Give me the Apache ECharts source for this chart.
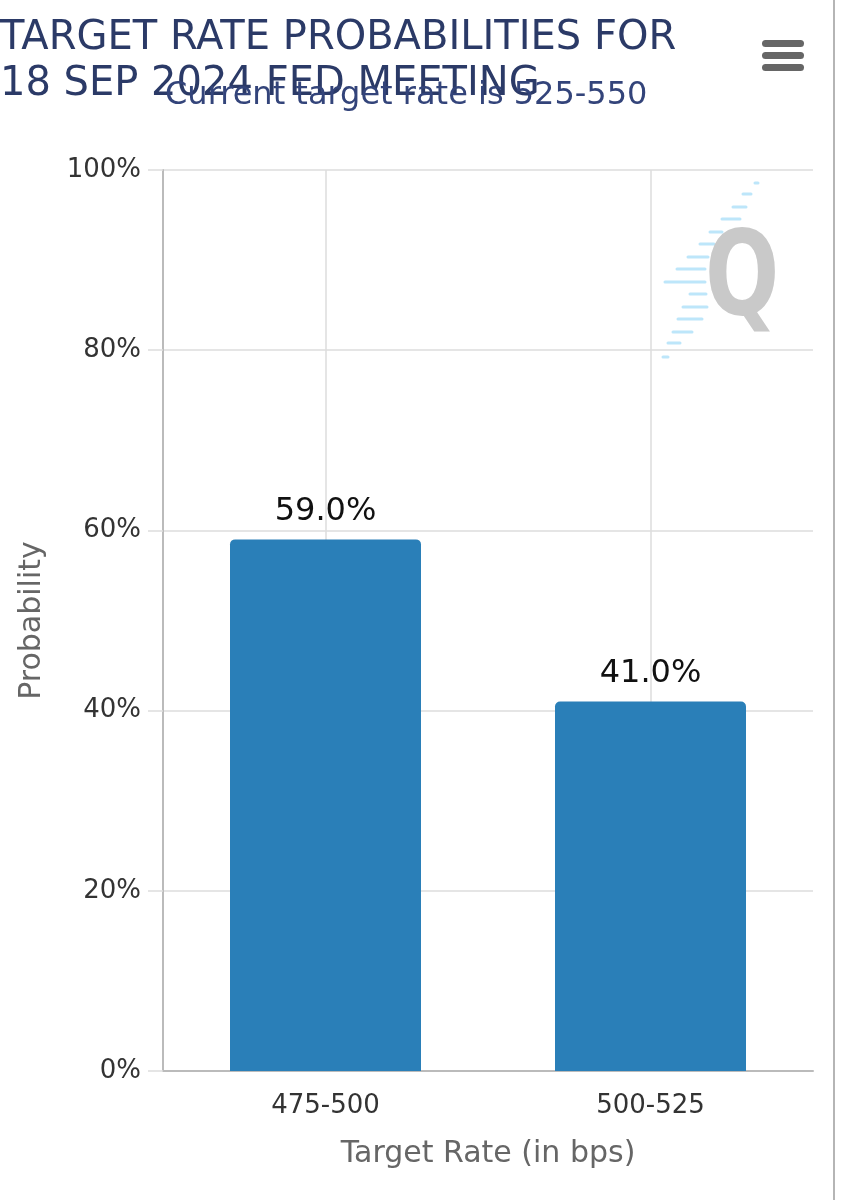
<!DOCTYPE html>
<html>
<head>
<meta charset="utf-8">
<script src="https://cdn.jsdelivr.net/npm/echarts@6/dist/echarts.min.js"></script>
<style>
html,body{margin:0;padding:0;background:#fff;}
#chart{width:844px;height:1200px;}
</style>
</head>
<body>
<div id="chart"></div>
<script>
const titleLines = ['TARGET RATE PROBABILITIES FOR', '18 SEP 2024 FED MEETING'];
const subtitleText = 'Current target rate is 525-550';
const categories = ['475-500', '500-525'];
const probabilities = [59.0, 41.0];
const yMin = 0, yMax = 100, yStep = 20;
const yAxisTitle = 'Probability';
const xAxisTitle = 'Target Rate (in bps)';

const chart = echarts.init(document.getElementById('chart'), null, {renderer: 'canvas'});
const F = '"DejaVu Sans", Verdana, sans-serif';

// decorative logo dashes (watermark)
const dashes = [
  [755,183,3],[743,194,8],[733,207,13],[722,219,18],[710,232,12],[700,244,14],
  [688,257,20],[677,269,28],[665,282,40],[690,294,16],[683,307,24],[678,319,24],
  [673,332,19],[668,343,12],[663,357,5]
];
const dashEls = dashes.map(d => ({
  type: 'line', shape: {x1: d[0], y1: d[1], x2: d[0] + d[2], y2: d[1]},
  style: {stroke: '#bde6fa', lineWidth: 3, lineCap: 'round'}, z: 0, silent: true
}));

chart.setOption({
  backgroundColor: '#ffffff',
  animation: false,
  title: [
    {text: titleLines.join('\n'), left: 0, top: 16, padding: 0,
     textStyle: {fontFamily: F, fontSize: 40, fontWeight: 'normal', color: '#2b3a67', lineHeight: 46}},
    {text: subtitleText, left: 165, top: 80, padding: 0,
     textStyle: {fontFamily: F, fontSize: 32, fontWeight: 'normal', color: '#33447a'}}
  ],
  grid: {left: 163, right: 31, top: 170, bottom: 129},
  xAxis: {
    type: 'category', data: categories,
    axisLine: {lineStyle: {color: '#bbbbbb', width: 2}},
    axisTick: {alignWithLabel: true, length: 20, lineStyle: {color: '#cccccc', width: 1.5}},
    axisLabel: {fontFamily: F, fontSize: 26, color: '#333333', margin: 22},
    name: xAxisTitle, nameLocation: 'middle', nameGap: 68,
    nameTextStyle: {fontFamily: F, fontSize: 30, color: '#666666'}
  },
  yAxis: {
    type: 'value', min: yMin, max: yMax, interval: yStep,
    axisLine: {show: true, lineStyle: {color: '#bbbbbb', width: 2}},
    axisTick: {show: true, length: 15, lineStyle: {color: '#dddddd', width: 1.5}},
    splitLine: {lineStyle: {color: '#dddddd', width: 1.5}},
    axisLabel: {fontFamily: F, fontSize: 26, color: '#333333', margin: 22, formatter: '{value}%'},
    name: yAxisTitle, nameLocation: 'middle', nameGap: 116, nameRotate: 90,
    nameTextStyle: {fontFamily: F, fontSize: 30, color: '#666666'}
  },
  series: [{
    type: 'bar', data: probabilities, barWidth: 191, z: 3,
    itemStyle: {color: '#2a7fb8', borderRadius: [5, 5, 0, 0]},
    label: {show: true, position: 'top', distance: 12, fontFamily: F, fontSize: 32, color: '#111111',
            formatter: p => p.value.toFixed(1) + '%'},
    markLine: {
      silent: true, symbol: 'none', z: 1, label: {show: false},
      lineStyle: {color: '#dddddd', width: 1.5, type: 'solid'},
      data: categories.map(c => ({xAxis: c}))
    }
  }],
  graphic: [
    ...dashEls,
    {type: 'text', x: 705, y: 224, scaleX: 0.74, z: 1, silent: true,
     style: {text: 'Q', font: 'bold 118px "DejaVu Sans"', fill: '#c9c9c9'}},
    {type: 'rect', shape: {x: 762, y: 40, width: 42, height: 7, r: 3.5}, style: {fill: '#666666'}, silent: true},
    {type: 'rect', shape: {x: 762, y: 52, width: 42, height: 7, r: 3.5}, style: {fill: '#666666'}, silent: true},
    {type: 'rect', shape: {x: 762, y: 64, width: 42, height: 7, r: 3.5}, style: {fill: '#666666'}, silent: true},
    {type: 'line', shape: {x1: 834, y1: 0, x2: 834, y2: 1200}, style: {stroke: '#b5b5b5', lineWidth: 2}, silent: true}
  ]
});
</script>
</body>
</html>
